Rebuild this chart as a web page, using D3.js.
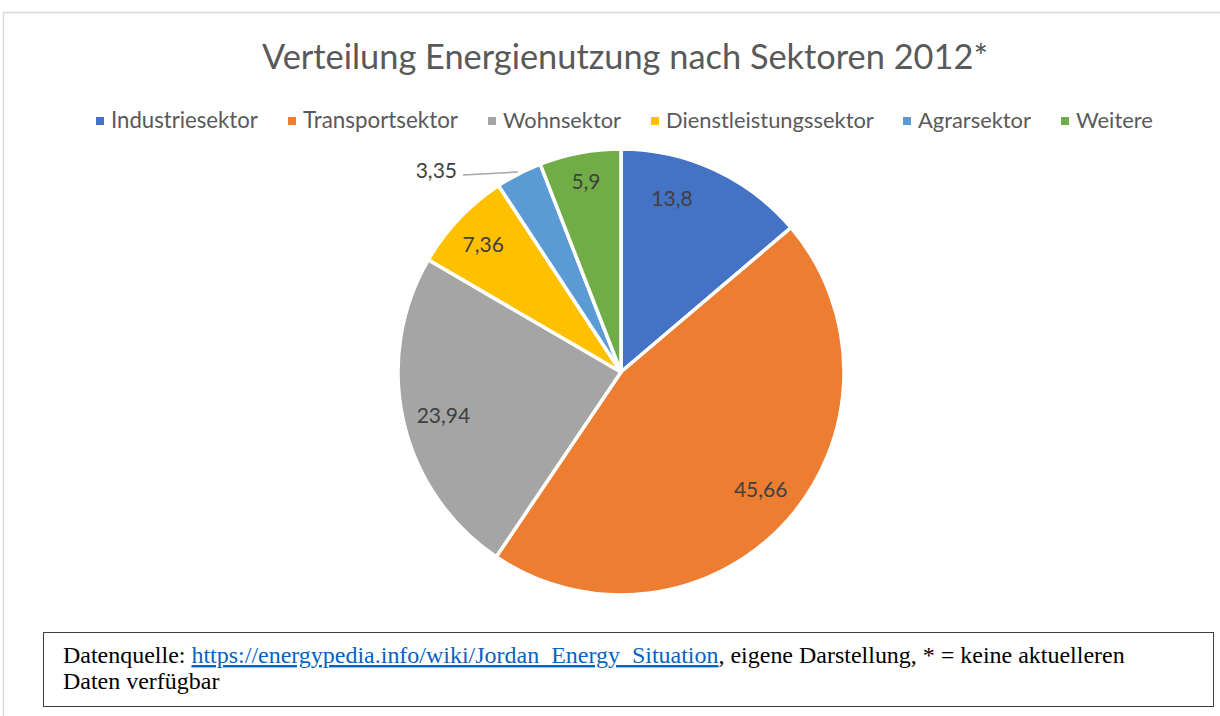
<!DOCTYPE html>
<html><head><meta charset="utf-8">
<script src="https://cdn.jsdelivr.net/npm/d3@7"></script>
<style>body{margin:0;background:#fff}svg{display:block}</style>
</head><body>
<svg id="c" width="1220" height="716"></svg>
<script>
const categories = ["Industriesektor","Transportsektor","Wohnsektor","Dienstleistungssektor","Agrarsektor","Weitere"];
const values = [13.8, 45.66, 23.94, 7.36, 3.35, 5.9];
const labels = ["13,8","45,66","23,94","7,36","3,35","5,9"];
const colors = ["#4472c4","#ed7d31","#a5a5a5","#ffc000","#5b9bd5","#70ad47"];
const title = "Verteilung Energienutzung nach Sektoren 2012*";

// label placement (fraction along slice, fraction of radius)
const labelT = [0.33, 0.49, 0.49, 0.47, 0.5, 0.51];
const labelR = [0.81, 0.82, 0.82, 0.84, 1.0, 0.87];

const svg = d3.select("#c");
const font = "Lato, 'Open Sans', sans-serif";

svg.append("path").attr("d","M3.5,716 L3.5,12.5 L1220,12.5").attr("fill","none").attr("stroke","#d9d9d9").attr("stroke-width",1.5);

function fitText(sel, w){
  const cur = sel.node().getComputedTextLength();
  const fs = parseFloat(sel.attr("font-size"));
  sel.attr("font-size", fs*w/cur);
}

const t = svg.append("text").attr("x",625).attr("y",69).attr("text-anchor","middle")
  .attr("font-family",font).attr("font-size",32).attr("fill","#595959").text(title);
fitText(t, 726);

const legendStarts = [111,303,503,666,918,1076];
const legendWidths = [147,155,118,208,113,77];
const lg = svg.append("g");
categories.forEach((c,i)=>{
  lg.append("rect").attr("x",legendStarts[i]-15).attr("y",117).attr("width",8).attr("height",8).attr("fill",colors[i]);
  const tx = lg.append("text").attr("x",legendStarts[i]).attr("y",128).attr("font-family",font)
    .attr("font-size",20).attr("fill","#595959").text(c);
  fitText(tx, legendWidths[i]);
});

const cx=621, cy=372, r=223;
const pie = d3.pie().sort(null).value(d=>d)(values);
const arc = d3.arc().innerRadius(0).outerRadius(r);
const g = svg.append("g").attr("transform",`translate(${cx},${cy})`);
g.selectAll("path").data(pie).join("path").attr("d",arc)
  .attr("fill",(d,i)=>colors[i]).attr("stroke","#fff").attr("stroke-width",3.5).attr("stroke-linejoin","round");

pie.forEach((d,i)=>{
  const a = d.startAngle + (d.endAngle-d.startAngle)*labelT[i];
  let x = Math.sin(a)*r*labelR[i], y = -Math.cos(a)*r*labelR[i];
  let anchor = "middle";
  if(i===4){
    const lx = 463-cx, ly = 175-cy;
    const ex = Math.sin(a)*(r+2), ey = -Math.cos(a)*(r+2);
    g.append("path").attr("d",`M${lx},${ly} L${ex},${ey}`).attr("stroke","#a6a6a6").attr("stroke-width",1.5).attr("fill","none");
    x = lx-6; y = ly-4; anchor="end";
  }
  g.append("text").attr("x",x).attr("y",y).attr("dy","0.35em").attr("text-anchor",anchor)
    .attr("font-family",font).attr("font-size",21).attr("fill","#404040").text(labels[i]);
});

svg.append("rect").attr("x",43.5).attr("y",632.5).attr("width",1170).attr("height",74).attr("fill","#fff").attr("stroke","#404040").attr("stroke-width",1);
const serif = "'Liberation Serif', 'DejaVu Serif', serif";
const n1 = svg.append("text").attr("x",63).attr("y",663).attr("font-family",serif).attr("font-size",18).attr("fill","#000");
n1.append("tspan").text("Datenquelle: ");
n1.append("tspan").attr("fill","#0563c1").attr("text-decoration","underline").text("https://energypedia.info/wiki/Jordan_Energy_Situation");
n1.append("tspan").text(", eigene Darstellung, * = keine aktuelleren");
fitText(n1, 1062);
const fsN = n1.attr("font-size");
svg.append("text").attr("x",63).attr("y",689).attr("font-family",serif).attr("font-size",fsN).attr("fill","#000").text("Daten verfügbar");
</script>
</body></html>
